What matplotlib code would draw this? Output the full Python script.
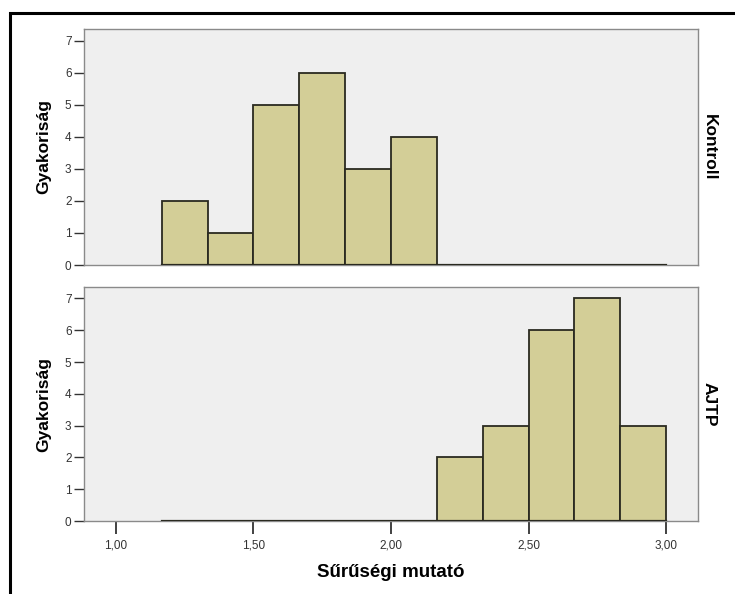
import numpy as np
import matplotlib
matplotlib.use("Agg")
import matplotlib.pyplot as plt
from matplotlib.patches import Rectangle

plt.rcParams['font.family'] = ['Liberation Sans', 'DejaVu Sans']

# histogram data (bin width 1/6 from 1.1667 to 3.0)
bin_edges = [1.1667, 1.3333, 1.5, 1.6667, 1.8333, 2.0, 2.1667,
             2.3333, 2.5, 2.6667, 2.8333, 3.0]
kontroll_counts = [2, 1, 5, 6, 3, 4, 0, 0, 0, 0, 0]
ajtp_counts = [0, 0, 0, 0, 0, 0, 2, 3, 6, 7, 3]
groups = ["Kontroll", "AJTP"]
x_ticks = [1.0, 1.5, 2.0, 2.5, 3.0]
x_ticklabels = ["1,00", "1,50", "2,00", "2,50", "3,00"]
y_ticks = [0, 1, 2, 3, 4, 5, 6, 7]

W, H = 735, 594
fig = plt.figure(figsize=(W / 100, H / 100), dpi=100)

# outer frame (runs off the right and bottom edges)
fig.patches.append(Rectangle((10 / W, -0.05), 1.0, 1 - 13 / H + 0.05,
                             transform=fig.transFigure, fill=False,
                             edgecolor="black", linewidth=2.2))

def px_axes(left, top, right, bottom):
    return fig.add_axes([left / W, 1 - bottom / H, (right - left) / W, (bottom - top) / H])

ax1 = px_axes(84, 29, 698, 265)
ax2 = px_axes(84, 287, 698, 521)

for ax, counts, name in zip([ax1, ax2], [kontroll_counts, ajtp_counts], groups):
    ax.set_facecolor("#efefef")
    lefts = np.array(bin_edges[:-1])
    widths = np.diff(bin_edges)
    ax.bar(lefts, counts, width=widths, align="edge", color="#d3ce97",
           edgecolor="#2a2a20", linewidth=1.3, zorder=3)
    ax.plot([bin_edges[0], bin_edges[-1]], [0, 0], color="#2a2a20", lw=1.6, zorder=4)
    ax.set_xlim(0.884, 3.116)
    ax.set_ylim(0, 7.36)
    ax.set_yticks(y_ticks)
    ax.tick_params(axis="y", labelsize=8.5, colors="#333333", length=7, width=1, pad=2)
    for s in ax.spines.values():
        s.set_color("#8a8a8a")
        s.set_linewidth(1)
    ax.set_ylabel("Gyakoriság", fontsize=12.5, fontweight="bold", labelpad=10)
    ax.text(1.006, 0.5, name, transform=ax.transAxes, rotation=-90,
            ha="left", va="center", fontsize=12.5, fontweight="bold")

ax1.set_xticks([])
ax2.set_xticks(x_ticks)
ax2.set_xticklabels(x_ticklabels)
ax2.tick_params(axis="x", labelsize=8.5, colors="#333333", length=9, width=1.3, pad=4,
                direction="out")
ax2.set_xlabel("Sűrűségi mutató", fontsize=13.5, fontweight="bold", labelpad=9)

fig.savefig("out.png", dpi=100)
